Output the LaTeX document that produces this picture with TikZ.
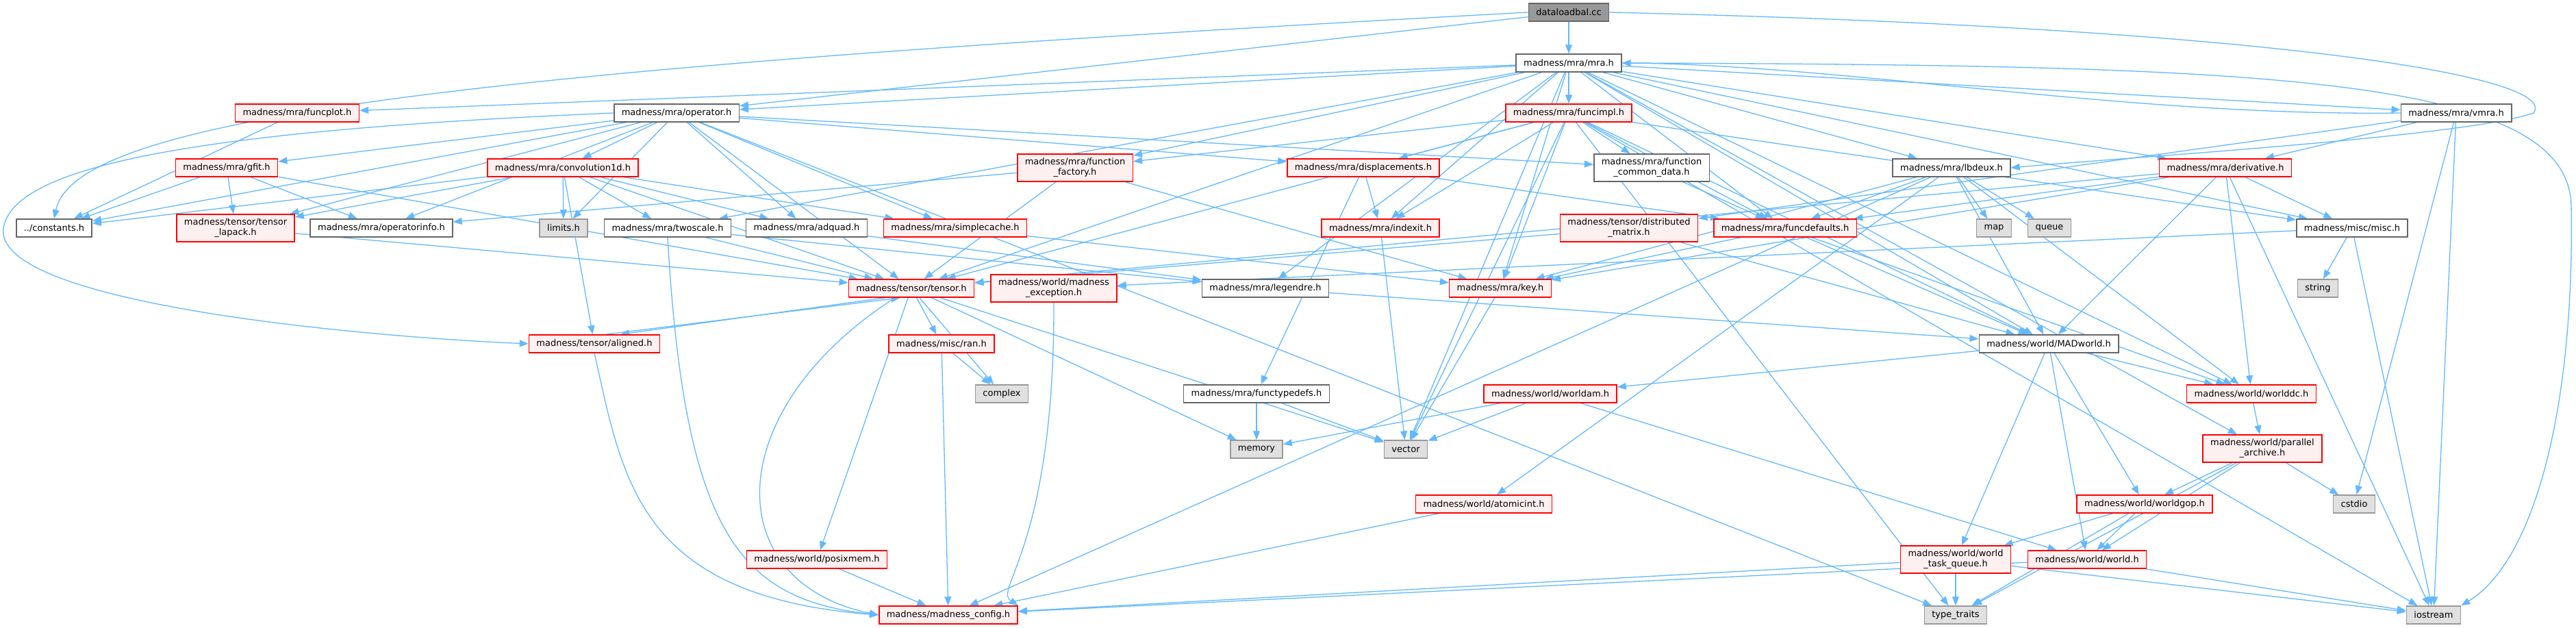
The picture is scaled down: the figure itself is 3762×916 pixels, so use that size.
\documentclass[tikz,border=0pt]{standalone}
\usepackage{fontspec}
\setmainfont{DejaVu Sans}
\usetikzlibrary{arrows.meta}
\definecolor{edgeblue}{HTML}{63B8FF}
\definecolor{pinkfill}{HTML}{FFF0F0}
\definecolor{boxgray}{HTML}{666666}
\definecolor{sysgray}{HTML}{999999}
\definecolor{sysfill}{HTML}{E0E0E0}
\definecolor{rootfill}{HTML}{999999}
\pgfdeclarelayer{bg}
\pgfsetlayers{bg,main}

\begin{document}
\begin{tikzpicture}[x=1pt,y=-1pt,
  every node/.style={font=\fontsize{13}{15}\selectfont,inner xsep=11pt,inner ysep=6pt,minimum height=26pt,align=center,line width=1.5pt},
  hdr/.style={draw=red,fill=pinkfill},
  plain/.style={draw=boxgray,fill=white},
  sys/.style={draw=sysgray,fill=sysfill},
  root/.style={draw=boxgray,fill=rootfill},
  dep/.style={edgeblue,line width=1.3pt,-{Triangle[length=13pt,width=10pt]}}]
\useasboundingbox (0,0) rectangle (3762,916);
% top rows
\node[root] (dl) at (2291,18) {dataloadbal.cc};
\node[plain] (mra) at (2291,92) {madness/mra/mra.h};
\node[hdr] (funcplot) at (434,165) {madness/mra/funcplot.h};
\node[plain] (operator) at (988,165) {madness/mra/operator.h};
\node[hdr] (funcimpl) at (2291,165) {madness/mra/funcimpl.h};
\node[plain] (vmra) at (3587,165) {madness/mra/vmra.h};
\node[hdr] (gfit) at (331,245) {madness/mra/gfit.h};
\node[hdr] (conv) at (822,245) {madness/mra/convolution1d.h};
\node[hdr] (ffactory) at (1570,245) {madness/mra/function\\\_factory.h};
\node[hdr] (displ) at (1991,245) {madness/mra/displacements.h};
\node[plain] (fcd) at (2412,245) {madness/mra/function\\\_common\_data.h};
\node[plain] (lbdeux) at (2850,245) {madness/mra/lbdeux.h};
\node[hdr] (deriv) at (3250,245) {madness/mra/derivative.h};
% middle rows
\node[plain] (const) at (79,333) {../constants.h};
\node[hdr] (lapack) at (344,333) {madness/tensor/tensor\\\_lapack.h};
\node[plain] (opinfo) at (557,333) {madness/mra/operatorinfo.h};
\node[sys] (limits) at (823,333) {limits.h};
\node[plain] (twoscale) at (975,333) {madness/mra/twoscale.h};
\node[plain] (adquad) at (1178,333) {madness/mra/adquad.h};
\node[hdr] (scache) at (1395,333) {madness/mra/simplecache.h};
\node[hdr] (indexit) at (2016,333) {madness/mra/indexit.h};
\node[hdr] (dmat) at (2379,333) {madness/tensor/distributed\\\_matrix.h};
\node[hdr] (fdef) at (2607,333) {madness/mra/funcdefaults.h};
\node[sys] (map) at (2912,333) {map};
\node[sys] (queue) at (2993,333) {queue};
\node[plain] (misc) at (3435,333) {madness/misc/misc.h};
\node[hdr] (tensor) at (1331,421) {madness/tensor/tensor.h};
\node[hdr] (mexc) at (1539,421) {madness/world/madness\\\_exception.h};
\node[plain] (legendre) at (1848,421) {madness/mra/legendre.h};
\node[hdr] (key) at (2191,421) {madness/mra/key.h};
\node[sys] (string) at (3385,421) {string};
\node[hdr] (aligned) at (868,502) {madness/tensor/aligned.h};
\node[hdr] (ran) at (1375,502) {madness/misc/ran.h};
\node[plain] (MADworld) at (2992,502) {madness/world/MADworld.h};
% lower rows
\node[sys] (complex) at (1463,575) {complex};
\node[plain] (ftd) at (1835,575) {madness/mra/functypedefs.h};
\node[hdr] (worldam) at (2264,575) {madness/world/worldam.h};
\node[hdr] (worlddc) at (3288,575) {madness/world/worlddc.h};
\node[sys] (memory) at (1835,656) {memory};
\node[sys] (vector) at (2053,656) {vector};
\node[hdr] (parch) at (3304,655) {madness/world/parallel\\\_archive.h};
\node[hdr] (atomicint) at (2167,736) {madness/world/atomicint.h};
\node[hdr] (worldgop) at (3132,736) {madness/world/worldgop.h};
\node[sys] (cstdio) at (3438,736) {cstdio};
\node[hdr] (posixmem) at (1193,817) {madness/world/posixmem.h};
\node[hdr] (wtq) at (2856,817) {madness/world/world\\\_task\_queue.h};
\node[hdr] (world) at (3048,817) {madness/world/world.h};
\node[hdr] (config) at (1385,898) {madness/madness\_config.h};
\node[sys] (ttraits) at (2856,898) {type\_traits};
\node[sys] (iostream) at (3554,898) {iostream};
% include edges
\begin{pgfonlayer}{bg}
\foreach \a/\b in {dl/mra,dl/operator,
  mra/funcplot,mra/operator,mra/funcimpl,mra/vmra,mra/deriv,mra/lbdeux,mra/twoscale,mra/legendre,
  mra/key,mra/indexit,mra/fdef,mra/ffactory,mra/tensor,mra/misc,mra/MADworld,mra/worlddc,
  mra/parch,mra/vector,
  vmra/deriv,vmra/dmat,vmra/cstdio,vmra/iostream,
  funcplot/const,
  operator/gfit,operator/conv,operator/const,operator/lapack,operator/opinfo,operator/limits,
  operator/adquad,operator/scache,operator/displ,operator/fcd,operator/tensor,operator/ttraits,
  funcimpl/displ,funcimpl/indexit,funcimpl/key,funcimpl/fcd,funcimpl/fdef,funcimpl/ffactory,
  funcimpl/tensor,funcimpl/misc,funcimpl/MADworld,funcimpl/iostream,funcimpl/ttraits,funcimpl/vector,
  gfit/const,gfit/lapack,gfit/opinfo,gfit/tensor,
  conv/const,conv/lapack,conv/limits,conv/twoscale,conv/adquad,conv/scache,conv/tensor,conv/aligned,
  ffactory/opinfo,ffactory/tensor,ffactory/key,
  displ/indexit,displ/fdef,displ/ftd,
  fcd/fdef,
  lbdeux/key,lbdeux/fdef,lbdeux/MADworld,lbdeux/map,lbdeux/queue,lbdeux/worlddc,lbdeux/atomicint,lbdeux/config,
  deriv/fdef,deriv/tensor,deriv/MADworld,deriv/worlddc,deriv/misc,deriv/iostream,deriv/key,
  lapack/tensor,twoscale/tensor,twoscale/legendre,adquad/legendre,scache/key,
  indexit/vector,dmat/tensor,dmat/MADworld,fdef/key,fdef/MADworld,fdef/worlddc,
  misc/iostream,misc/string,misc/mexc,
  tensor/ran,tensor/complex,tensor/posixmem,tensor/vector,tensor/memory,
  legendre/MADworld,key/vector,
  ran/config,ran/complex,posixmem/config,ftd/memory,ftd/vector,
  worldam/memory,worldam/vector,worldam/world,
  MADworld/worlddc,MADworld/worldgop,MADworld/world,MADworld/wtq,MADworld/worldam,
  atomicint/config,worlddc/parch,parch/worldgop,parch/world,parch/ttraits,parch/cstdio,
  worldgop/wtq,worldgop/world,worldgop/ttraits,
  wtq/ttraits,wtq/iostream,wtq/config,world/iostream,world/config}
  \draw[dep] (\a) -- (\b);
% long edges that go round the outside
\draw[dep] (dl.west) .. controls (700,100) and (110,170) .. (const.north);
\draw[dep] (dl.east) .. controls (3300,40) and (3740,110) .. (3700,165) .. controls (3600,200) and (3100,230) .. (lbdeux.east);
\draw[dep] (mra.east) .. controls (3300,95) and (3750,110) .. (3755,300) .. controls (3760,600) and (3700,820) .. (iostream.north east);
\draw[dep] (operator.west) .. controls (300,190) and (20,240) .. (5,333) .. controls (-10,440) and (500,490) .. (aligned.west);
\draw[dep] (aligned.south) .. controls (910,700) and (930,870) .. (config.west);
\draw[dep] (twoscale.south) .. controls (1000,780) and (1080,875) .. (config.west);
\draw[dep] (tensor.210) .. controls (1050,600) and (1050,850) .. (config.west);
\draw[dep] (mexc.south) .. controls (1540,800) and (1450,860) .. (config.north east);
% two-way includes
\draw[dep] (vmra.west) .. controls (3100,170) and (2700,95) .. (mra.east);
\draw[dep] (tensor.200) -- (aligned.20);
\draw[dep] (aligned.40) -- (tensor.220);
\end{pgfonlayer}
\end{tikzpicture}
\end{document}
